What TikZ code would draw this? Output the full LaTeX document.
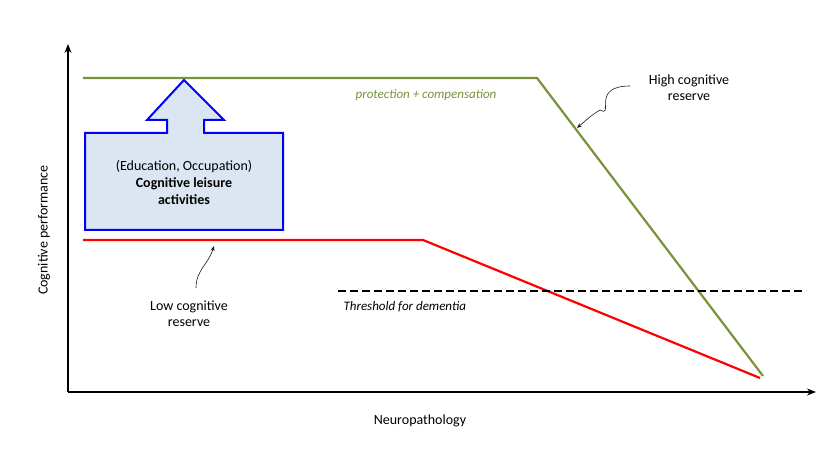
\documentclass[tikz,border=0pt]{standalone}
\usepackage{fontspec}
\setmainfont{Carlito}
\usetikzlibrary{arrows.meta}
\definecolor{grn}{RGB}{119,147,60}
\definecolor{boxfill}{RGB}{220,230,242}
\begin{document}
\begin{tikzpicture}[x=1pt,y=-1pt,
  axis/.style={line width=1.6pt,-{Stealth[length=9pt,width=7pt]}},
  ptr/.style={gray!20!black,line width=0.6pt,-{Stealth[length=5pt,width=4pt]}},
  lbl/.style={font=\fontsize{14}{16}\selectfont,align=center}]
\useasboundingbox (0,0) rectangle (824,470);
\coordinate (o) at (68,392);
\coordinate (ytop) at (68,44);
\coordinate (xend) at (816,392);
\draw[axis] (o) -- (ytop);
\draw[axis] (o) -- (xend);
\node[lbl,rotate=90] (ylab) at (44,230) {Cognitive performance};
\node[lbl] (xlab) at (420,421) {Neuropathology};
% green
\coordinate (g1) at (83,78); \coordinate (g2) at (537,78); \coordinate (g3) at (763,376);
\draw[grn,line width=2.2pt] (g1) -- (g2) -- (g3);
% red
\coordinate (r1) at (83,240); \coordinate (r2) at (423,240); \coordinate (r3) at (760,378);
\draw[red,line width=2.2pt] (r1) -- (r2) -- (r3);
% threshold
\coordinate (t1) at (338,291); \coordinate (t2) at (806,291);
\draw[line width=2pt,dash pattern=on 8pt off 4pt] (t1) -- (t2);
\node[font=\fontsize{13}{15}\selectfont\itshape,anchor=west] (thr) at (340,307) {Threshold for dementia};
\node[font=\fontsize{13}{15}\selectfont\itshape,text=grn] (pc) at (426,95) {protection + compensation};
% box arrow
\draw[blue,line width=2pt,fill=boxfill,line join=miter]
  (85,133) -- (167,133) -- (167,120) -- (147,120) -- (184,80) -- (224,120) -- (204,120) -- (204,133)
  -- (283,133) -- (283,230) -- (85,230) -- cycle;
\node[lbl,font=\fontsize{14}{17}\selectfont] (bx) at (184,182) {(Education, Occupation)\\\textbf{Cognitive leisure}\\\textbf{activities}};
% labels
\node[lbl] (high) at (689,88) {High cognitive\\reserve};
\node[lbl] (low) at (189,314) {Low cognitive\\reserve};
\coordinate (hs) at (630,86); \coordinate (ht) at (577,128);
\draw[ptr] (hs) .. controls (590,86) and (615,118) .. (600,110) .. controls (592,115) .. (ht);
\coordinate (ls) at (196,288); \coordinate (lt) at (214,246);
\draw[ptr] (ls) .. controls (196,270) and (208,265) .. (lt);
\end{tikzpicture}
\end{document}
